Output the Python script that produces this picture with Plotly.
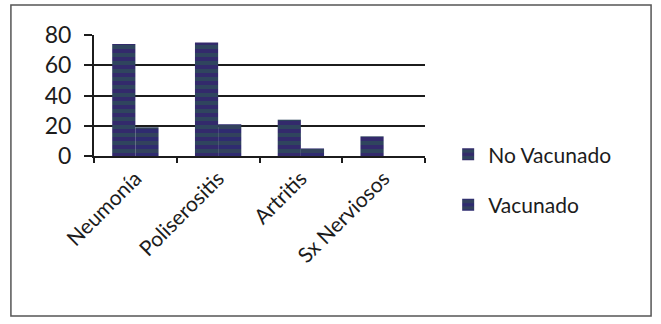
import plotly.graph_objects as go

categories = ["Neumonía", "Poliserositis", "Artritis", "Sx Nerviosos"]
no_vacunado = [74, 75, 24, 13]
vacunado = [19, 21, 5, 0]
y_ticks = [0, 20, 40, 60, 80]

FONT = "Lato, Carlito, 'Open Sans', sans-serif"
INK = "#1c1c1c"

def striped(bg, fg):
    return dict(color=bg, line=dict(width=0),
                pattern=dict(shape="-", fgcolor=fg, bgcolor=bg, size=8, solidity=0.5))

fig = go.Figure()
fig.add_trace(go.Bar(name="No Vacunado", x=categories, y=no_vacunado,
                     marker=striped("#332a6c", "#2c6050"), legendgroup="a"))
fig.add_trace(go.Bar(name="Vacunado", x=categories, y=vacunado,
                     marker=striped("#2f2b70", "#365a4a"), legendgroup="b"))

fig.update_layout(
    width=661, height=324,
    margin=dict(l=94, r=236, t=35, b=168),
    paper_bgcolor="white", plot_bgcolor="white",
    barmode="group", bargap=0.44, bargroupgap=0,
    font=dict(family=FONT, color=INK),
    showlegend=True,
    legend=dict(x=1.07, y=0.18, xanchor="left", yanchor="top",
                font=dict(size=21, color=INK, family=FONT),
                traceorder="grouped", tracegroupgap=20,
                itemwidth=30,
                bgcolor="rgba(0,0,0,0)"),
    shapes=[dict(type="rect", xref="paper", yref="paper",
                 x0=-0.251, x1=1.683, y0=-1.322, y1=1.248,
                 line=dict(color="#555555", width=1.5), fillcolor="rgba(0,0,0,0)",
                 layer="below")],
)
fig.update_xaxes(
    type="category", showline=True, linecolor=INK, linewidth=2,
    ticks="outside", tickson="boundaries", ticklen=5, tickcolor=INK, tickwidth=2,
    tickangle=-45, tickfont=dict(size=21, family=FONT, color=INK),
    showgrid=False,
)
fig.update_yaxes(
    range=[0, 80], tickvals=y_ticks, showline=True, linecolor=INK, linewidth=2,
    showgrid=True, gridcolor=INK, gridwidth=2,
    ticks="outside", ticklen=8, tickcolor=INK, tickwidth=2,
    ticklabelstandoff=8,
    tickfont=dict(size=23, family=FONT, color=INK),
    zeroline=False,
)

fig.write_html("out.html")
